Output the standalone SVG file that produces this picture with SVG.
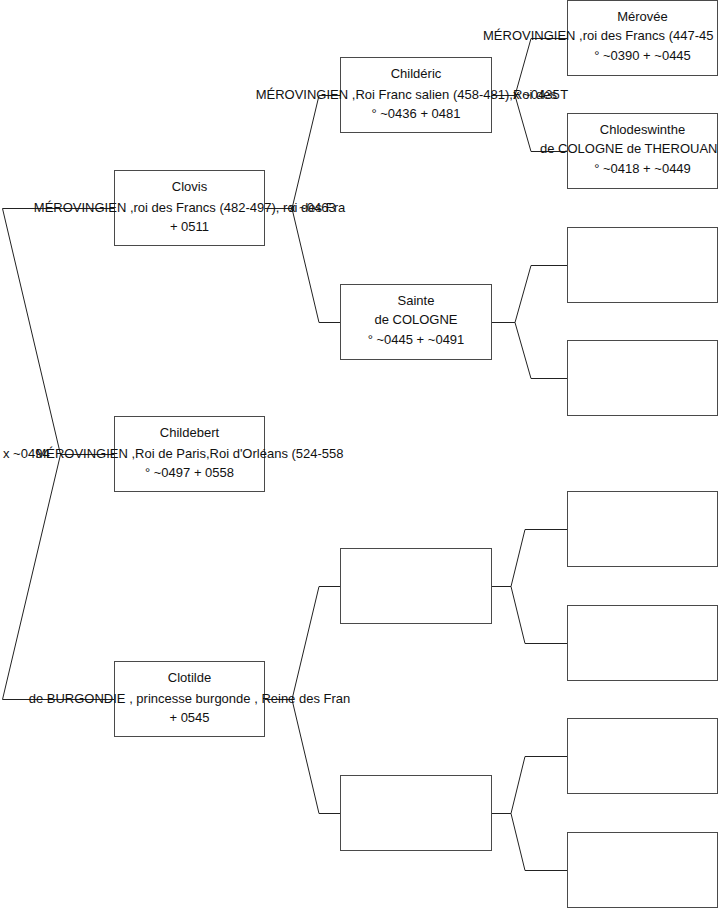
<svg xmlns="http://www.w3.org/2000/svg" width="719" height="908" viewBox="0 0 719 908">
<style>
.box{fill:#fff;stroke:#4a4a4a;stroke-width:1}
.c{fill:none;stroke:#222;stroke-width:1}
text{font-family:"Liberation Sans",Arial,sans-serif;font-size:13px;fill:#111}
.m{text-anchor:middle}
</style>
<rect width="719" height="908" fill="#fff"/>
<g id="connectors">
<path class="c" d="M114,208.5H2.5L60.5,454.5L2.5,699.5H114M60.5,454.5H114"/>
<path class="c" d="M265,208.5H292L319,95.5H340M292,208.5L319,322.5H340"/>
<path class="c" d="M492,95.5H515L531,38.5H567M515,95.5L531,151.5H567"/>
<path class="c" d="M492,322.5H515L531,265.5H567M515,322.5L531,378.5H567"/>
<path class="c" d="M265,699.5H292L319,586.5H340M292,699.5L319,813.5H340"/>
<path class="c" d="M492,586.5H511L525,529.5H567M511,586.5L525,643.5H567"/>
<path class="c" d="M492,813.5H511L525,756.5H567M511,813.5L525,870.5H567"/>
</g>
<g id="clovis"><rect class="box" x="114.5" y="170.5" width="150" height="75"/>
<text class="m" x="189.5" y="191">Clovis</text>
<text class="m" x="189.5" y="212">MÉROVINGIEN ,roi des Francs (482-497), roi des Fra</text>
<text class="m" x="189.5" y="231">+ 0511</text></g>
<g id="childebert"><rect class="box" x="114.5" y="416.5" width="150" height="75"/>
<text class="m" x="189.5" y="437">Childebert</text>
<text class="m" x="189.5" y="458">MÉROVINGIEN ,Roi de Paris,Roi d'Orléans (524-558</text>
<text class="m" x="189.5" y="477">° ~0497 + 0558</text></g>
<g id="clotilde"><rect class="box" x="114.5" y="661.5" width="150" height="75"/>
<text class="m" x="189.5" y="682">Clotilde</text>
<text class="m" x="189.5" y="703">de BURGONDIE , princesse burgonde , Reine des Fran</text>
<text class="m" x="189.5" y="722">+ 0545</text></g>
<g id="childeric"><rect class="box" x="340.5" y="57.5" width="151" height="75"/>
<text class="m" x="416" y="78">Childéric</text>
<text class="m" x="412" y="99">MÉROVINGIEN ,Roi Franc salien (458-481),Roi des T</text>
<text class="m" x="416" y="118">° ~0436 + 0481</text></g>
<g id="sainte"><rect class="box" x="340.5" y="284.5" width="151" height="75"/>
<text class="m" x="416" y="305">Sainte</text>
<text class="m" x="416" y="324">de COLOGNE</text>
<text class="m" x="416" y="344">° ~0445 + ~0491</text></g>
<g id="gen2c"><rect class="box" x="340.5" y="548.5" width="151" height="75"/></g>
<g id="gen2d"><rect class="box" x="340.5" y="775.5" width="151" height="75"/></g>
<g id="merovee"><rect class="box" x="567.5" y="0.5" width="150" height="75"/>
<text class="m" x="642.5" y="21">Mérovée</text>
<text x="483" y="40">MÉROVINGIEN ,roi des Francs (447-45</text>
<text class="m" x="642.5" y="60">° ~0390 + ~0445</text></g>
<g id="chlodeswinthe"><rect class="box" x="567.5" y="113.5" width="150" height="75"/>
<text class="m" x="642.5" y="134">Chlodeswinthe</text>
<text x="540" y="153">de COLOGNE de THEROUAN</text>
<text class="m" x="642.5" y="173">° ~0418 + ~0449</text></g>
<g id="gen3c"><rect class="box" x="567.5" y="227.5" width="150" height="75"/></g>
<g id="gen3d"><rect class="box" x="567.5" y="340.5" width="150" height="75"/></g>
<g id="gen3e"><rect class="box" x="567.5" y="491.5" width="150" height="75"/></g>
<g id="gen3f"><rect class="box" x="567.5" y="605.5" width="150" height="75"/></g>
<g id="gen3g"><rect class="box" x="567.5" y="718.5" width="150" height="75"/></g>
<g id="gen3h"><rect class="box" x="567.5" y="832.5" width="150" height="75"/></g>
<g id="labels">
<text x="3" y="458">x ~0494</text>
<text x="289" y="212">x ~0463</text>
<text x="513" y="99">x ~0435</text>
</g>
</svg>
